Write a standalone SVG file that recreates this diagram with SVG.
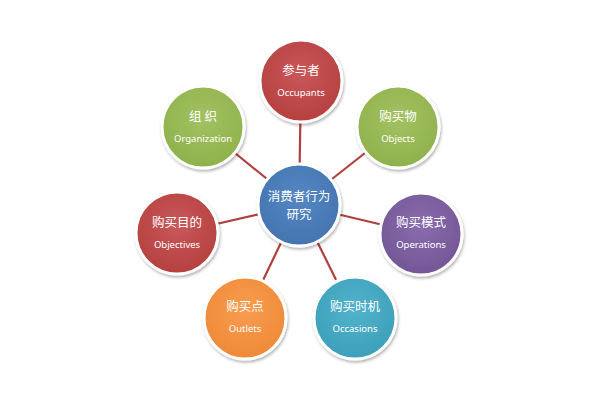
<svg xmlns="http://www.w3.org/2000/svg" width="600" height="400" viewBox="0 0 600 400">
<defs>
<filter id="sh" x="-20%" y="-20%" width="140%" height="140%">
<feGaussianBlur in="SourceAlpha" stdDeviation="1.5"/>
<feOffset dx="1" dy="2" result="b"/>
<feComponentTransfer><feFuncA type="linear" slope="0.3"/></feComponentTransfer>
<feMerge><feMergeNode/><feMergeNode in="SourceGraphic"/></feMerge>
</filter>
<radialGradient id="gr" cx="50%" cy="40%" r="60%"><stop offset="0" stop-color="#c9585a"/><stop offset="1" stop-color="#b5403f"/></radialGradient>
<radialGradient id="gg" cx="50%" cy="40%" r="60%"><stop offset="0" stop-color="#a3c262"/><stop offset="1" stop-color="#8fb14c"/></radialGradient>
<radialGradient id="gp" cx="50%" cy="40%" r="60%"><stop offset="0" stop-color="#8a6cad"/><stop offset="1" stop-color="#735696"/></radialGradient>
<radialGradient id="gt" cx="50%" cy="40%" r="60%"><stop offset="0" stop-color="#52b3cc"/><stop offset="1" stop-color="#3d9fba"/></radialGradient>
<radialGradient id="go" cx="50%" cy="40%" r="60%"><stop offset="0" stop-color="#f99c4f"/><stop offset="1" stop-color="#ee8a38"/></radialGradient>
<radialGradient id="gb" cx="50%" cy="40%" r="60%"><stop offset="0" stop-color="#5587c3"/><stop offset="1" stop-color="#4474b0"/></radialGradient>
</defs>
<style>
.c{stroke:#fff;stroke-width:3;filter:url(#sh)}
.zh{font-family:"Noto Sans CJK SC","Noto Sans",sans-serif;font-size:12.5px;fill:#fff;text-anchor:middle}
.en{font-family:"Noto Sans","DejaVu Sans",sans-serif;font-size:9.5px;fill:#fff;text-anchor:middle}
.zc{font-family:"Noto Sans CJK SC",sans-serif;font-size:12.5px;fill:#fff;text-anchor:middle}
.ln{stroke:#b0403d;stroke-width:2.2;fill:none}
</style>
<rect width="600" height="400" fill="#fff"/>
<g id="connectors">
<line class="ln" x1="299" y1="205" x2="301" y2="81"/>
<line class="ln" x1="299" y1="205" x2="398" y2="127"/>
<line class="ln" x1="299" y1="205" x2="203" y2="127"/>
<line class="ln" x1="299" y1="205" x2="421" y2="234"/>
<line class="ln" x1="299" y1="205" x2="177" y2="233"/>
<line class="ln" x1="299" y1="205" x2="355" y2="318"/>
<line class="ln" x1="299" y1="205" x2="245" y2="318"/>
</g>
<g id="occupants"><circle class="c" cx="301" cy="81" r="41" fill="url(#gr)"/><text class="zh" x="301" y="75">参与者</text><text class="en" x="301" y="96">Occupants</text></g>
<g id="objects"><circle class="c" cx="398" cy="127" r="41" fill="url(#gg)"/><text class="zh" x="398" y="121">购买物</text><text class="en" x="398" y="142">Objects</text></g>
<g id="organization"><circle class="c" cx="203" cy="127" r="41" fill="url(#gg)"/><text class="zh" x="203" y="121">组 织</text><text class="en" x="203" y="142">Organization</text></g>
<g id="operations"><circle class="c" cx="421" cy="234" r="41" fill="url(#gp)"/><text class="zh" x="421" y="227">购买模式</text><text class="en" x="421" y="248">Operations</text></g>
<g id="objectives"><circle class="c" cx="177" cy="233" r="41" fill="url(#gr)"/><text class="zh" x="177" y="227">购买目的</text><text class="en" x="177" y="248">Objectives</text></g>
<g id="occasions"><circle class="c" cx="355" cy="318" r="41" fill="url(#gt)"/><text class="zh" x="355" y="311">购买时机</text><text class="en" x="355" y="332">Occasions</text></g>
<g id="outlets"><circle class="c" cx="245" cy="318" r="41" fill="url(#go)"/><text class="zh" x="245" y="311">购买点</text><text class="en" x="245" y="332">Outlets</text></g>
<g id="center"><circle class="c" cx="299" cy="205" r="41" fill="url(#gb)"/><text class="zc" x="299" y="201">消费者行为</text><text class="zc" x="299" y="219">研究</text></g>
</svg>
